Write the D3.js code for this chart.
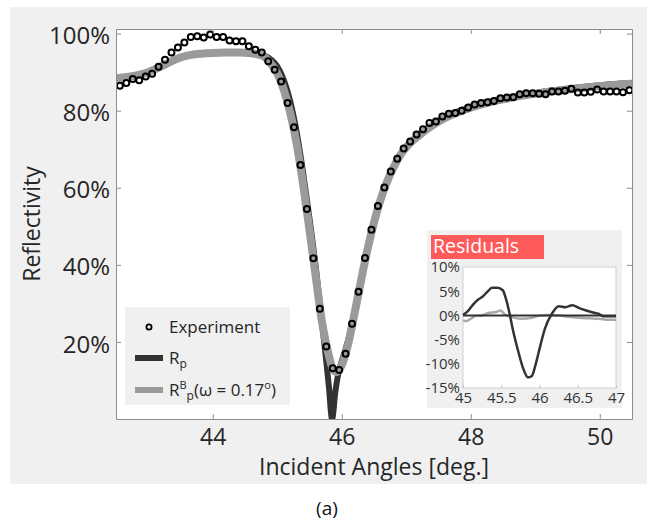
<!DOCTYPE html>
<html>
<head>
<meta charset="utf-8">
<script src="https://cdn.jsdelivr.net/npm/d3@7"></script>
<style>
  body { margin: 0; background: #fff; }
  svg { display: block; }
  text { font-family: "Open Sans", "DejaVu Sans", sans-serif; }
</style>
</head>
<body>
<svg id="chart" width="651" height="523"></svg>
<script>
// ---- Measured reflectivity (fraction) vs incident angle (deg) ----
const expAngles = [42.56,42.66,42.76,42.86,42.96,43.06,43.16,43.26,43.36,43.46,43.56,43.66,43.76,43.86,43.96,44.06,44.16,44.26,44.36,44.46,44.56,44.66,44.76,44.86,44.96,45.06,45.16,45.26,45.36,45.46,45.56,45.66,45.76,45.86,45.96,46.06,46.16,46.26,46.36,46.46,46.56,46.66,46.76,46.86,46.96,47.06,47.16,47.26,47.36,47.46,47.56,47.66,47.76,47.86,47.96,48.06,48.16,48.26,48.36,48.46,48.56,48.66,48.76,48.86,48.96,49.06,49.16,49.26,49.36,49.46,49.56,49.66,49.76,49.86,49.96,50.06,50.16,50.26,50.36,50.46];
const expValues = [0.865,0.872,0.882,0.879,0.889,0.896,0.914,0.932,0.951,0.964,0.977,0.991,0.993,0.990,0.998,0.991,0.991,0.982,0.980,0.980,0.967,0.958,0.951,0.928,0.906,0.876,0.820,0.757,0.659,0.545,0.417,0.286,0.188,0.132,0.127,0.169,0.247,0.330,0.418,0.491,0.553,0.601,0.642,0.675,0.702,0.720,0.738,0.752,0.768,0.772,0.785,0.792,0.794,0.800,0.808,0.816,0.820,0.822,0.825,0.832,0.834,0.835,0.843,0.845,0.845,0.844,0.843,0.850,0.850,0.852,0.857,0.847,0.847,0.849,0.855,0.850,0.850,0.850,0.848,0.853];

// ---- Model Rp (plane wave) ----
const rpAngles = [42.5,42.6,42.7,42.8,42.9,43.0,43.1,43.2,43.3,43.4,43.5,43.6,43.7,43.8,43.9,44.0,44.2,44.4,44.6,44.7,44.8,44.9,45.0,45.1,45.2,45.3,45.4,45.5,45.6,45.7,45.76,45.8,45.85,45.9,45.95,46.0,46.1,46.2,46.3,46.4,46.5,46.6,46.7,46.8,46.9,47.0,47.2,47.4,47.6,47.8,48.0,48.2,48.4,48.6,48.8,49.0,49.2,49.4,49.6,49.8,50.0,50.2,50.5];
const rpValues = [0.884,0.886,0.888,0.891,0.895,0.900,0.907,0.915,0.923,0.931,0.938,0.943,0.946,0.948,0.949,0.950,0.951,0.951,0.950,0.948,0.943,0.933,0.915,0.880,0.825,0.745,0.640,0.520,0.390,0.240,0.150,0.085,0.000,0.070,0.120,0.150,0.205,0.280,0.362,0.442,0.512,0.570,0.617,0.654,0.685,0.707,0.738,0.763,0.783,0.798,0.810,0.820,0.828,0.835,0.841,0.846,0.851,0.855,0.859,0.863,0.866,0.869,0.872];

// ---- Model R^B_p (beam divergence w = 0.17 deg) ----
const rbAngles = [42.5,42.6,42.7,42.8,42.9,43.0,43.1,43.2,43.3,43.4,43.5,43.6,43.7,43.8,43.9,44.0,44.2,44.4,44.6,44.7,44.8,44.9,45.0,45.1,45.2,45.3,45.4,45.5,45.6,45.7,45.8,45.86,45.92,46.0,46.1,46.2,46.3,46.4,46.5,46.6,46.7,46.8,46.9,47.0,47.2,47.4,47.6,47.8,48.0,48.2,48.4,48.6,48.8,49.0,49.2,49.4,49.6,49.8,50.0,50.2,50.5];
const rbValues = [0.884,0.886,0.888,0.891,0.895,0.900,0.907,0.915,0.923,0.931,0.938,0.943,0.946,0.948,0.949,0.950,0.951,0.951,0.949,0.946,0.940,0.922,0.897,0.855,0.795,0.715,0.610,0.490,0.365,0.245,0.165,0.130,0.122,0.140,0.195,0.275,0.360,0.440,0.510,0.568,0.615,0.652,0.683,0.705,0.736,0.761,0.781,0.796,0.808,0.818,0.826,0.833,0.839,0.844,0.849,0.853,0.857,0.861,0.864,0.867,0.870];

// ---- Residuals (%) ----
const resRpAngles = [45.0,45.07,45.14,45.2,45.25,45.32,45.38,45.45,45.52,45.56,45.61,45.65,45.72,45.79,45.85,45.9,45.95,46.01,46.07,46.16,46.25,46.34,46.43,46.52,46.61,46.7,46.77,46.83,46.92,47.0];
const resRpValues = [0.1,1.0,2.4,3.3,3.8,4.9,5.7,5.7,5.2,3.5,0.3,-2.8,-7.3,-11.1,-12.8,-12.5,-10.1,-6.3,-2.8,0.3,1.9,1.7,2.1,1.5,1.0,0.6,0.35,-0.15,-0.15,-0.15];
const resRbAngles = [45.0,45.04,45.1,45.17,45.25,45.33,45.43,45.49,45.54,45.63,45.76,45.9,45.99,46.12,46.25,46.38,46.52,46.65,46.78,46.91,47.0];
const resRbValues = [-1.0,-1.2,-0.7,-0.1,0.0,0.5,0.7,1.0,0.3,-0.3,-0.7,-0.5,-0.1,0.1,0.0,-0.3,-0.5,-0.6,-0.7,-0.9,-0.9];

// ---- Tick values ----
const xTicks = [44, 46, 48, 50];
const yTicks = [0.2, 0.4, 0.6, 0.8, 1.0];
const insetXTicks = [45, 45.5, 46, 46.5, 47];
const insetYTicks = [10, 5, 0, -5, -10, -15];

const COLOR_RP = "#333333";
const COLOR_RB = "#9a9a9a";
const AXIS_COLOR = "#8c8c8c";
const TEXT_COLOR = "#262626";

const svg = d3.select("#chart");
const P = { left: 116, right: 632, top: 29, bottom: 419 };

// figure background
svg.append("rect").attr("x", 10).attr("y", 7).attr("width", 637).attr("height", 477).attr("fill", "#f0f0f0");
svg.append("rect").attr("x", P.left).attr("y", P.top)
  .attr("width", P.right - P.left).attr("height", P.bottom - P.top).attr("fill", "#fff");

const x = d3.scaleLinear().domain([42.5, 50.5]).range([P.left, P.right]);
const y = d3.scaleLinear().domain([0, 1.012]).range([P.bottom, P.top]);

svg.append("clipPath").attr("id", "plotClip").append("rect")
  .attr("x", P.left).attr("y", P.top).attr("width", P.right - P.left).attr("height", P.bottom - P.top);

const lineGen = d3.line().x(d => x(d[0])).y(d => y(d[1])).curve(d3.curveMonotoneX);
const gPlot = svg.append("g").attr("clip-path", "url(#plotClip)");

gPlot.append("path").datum(d3.zip(rpAngles, rpValues))
  .attr("d", lineGen).attr("fill", "none").attr("stroke", COLOR_RP)
  .attr("stroke-width", 6).attr("stroke-linejoin", "round");
gPlot.append("path").datum(d3.zip(rbAngles, rbValues))
  .attr("d", lineGen).attr("fill", "none").attr("stroke", COLOR_RB)
  .attr("stroke-width", 8).attr("stroke-linejoin", "round");

gPlot.selectAll("circle.exp").data(d3.zip(expAngles, expValues)).enter()
  .append("circle").attr("class", "exp")
  .attr("cx", d => x(d[0])).attr("cy", d => y(d[1])).attr("r", 3)
  .attr("fill", "none").attr("stroke", "#000").attr("stroke-width", 2);

// axes (ticks pointing inward, box on)
function styleAxis(g) {
  g.selectAll("path.domain").attr("stroke", AXIS_COLOR);
  g.selectAll(".tick line").attr("stroke", AXIS_COLOR);
  g.selectAll("text").attr("fill", TEXT_COLOR).attr("font-family", '"Open Sans", sans-serif');
}
const gx = svg.append("g").attr("transform", `translate(0,${P.bottom})`)
  .call(d3.axisBottom(x).tickValues(xTicks).tickSizeInner(-5).tickSizeOuter(0).tickPadding(10).tickFormat(d3.format("d")));
gx.selectAll("text").attr("font-size", 23);
styleAxis(gx);
const gxt = svg.append("g").attr("transform", `translate(0,${P.top})`)
  .call(d3.axisTop(x).tickValues(xTicks).tickSizeInner(-5).tickSizeOuter(0).tickFormat(""));
styleAxis(gxt);
const gy = svg.append("g").attr("transform", `translate(${P.left},0)`)
  .call(d3.axisLeft(y).tickValues(yTicks).tickSizeInner(-5).tickSizeOuter(0).tickPadding(6).tickFormat(d3.format(".0%")));
gy.selectAll("text").attr("font-size", 24).attr("dy", "0.42em");
styleAxis(gy);
const gyr = svg.append("g").attr("transform", `translate(${P.right},0)`)
  .call(d3.axisRight(y).tickValues(yTicks).tickSizeInner(-5).tickSizeOuter(0).tickFormat(""));
styleAxis(gyr);

// axis titles
svg.append("text").attr("x", (P.left + P.right) / 2).attr("y", 475)
  .attr("text-anchor", "middle").attr("font-size", 23).attr("fill", TEXT_COLOR)
  .text("Incident Angles [deg.]");
svg.append("text").attr("transform", `translate(40,${(P.top + P.bottom) / 2}) rotate(-90)`)
  .attr("text-anchor", "middle").attr("font-size", 23).attr("fill", TEXT_COLOR)
  .text("Reflectivity");

// caption
svg.append("text").attr("x", 327).attr("y", 515).attr("text-anchor", "middle")
  .attr("font-family", '"DejaVu Serif", "Liberation Serif", serif').attr("font-size", 19)
  .attr("fill", "#111").text("(a)");

// legend
const lg = svg.append("g");
lg.append("rect").attr("x", 125).attr("y", 307).attr("width", 165).attr("height", 98).attr("fill", "#f0f0f0");
lg.append("circle").attr("cx", 149).attr("cy", 327).attr("r", 2.6)
  .attr("fill", "none").attr("stroke", "#000").attr("stroke-width", 1.8);
lg.append("text").attr("x", 169).attr("y", 333).attr("font-size", 17).attr("fill", TEXT_COLOR).text("Experiment");
lg.append("line").attr("x1", 135).attr("x2", 163).attr("y1", 358).attr("y2", 358)
  .attr("stroke", COLOR_RP).attr("stroke-width", 6);
const t1 = lg.append("text").attr("x", 169).attr("y", 364).attr("font-size", 17).attr("fill", TEXT_COLOR);
t1.append("tspan").text("R");
t1.append("tspan").attr("font-size", 12).attr("dy", 4).text("p");
lg.append("line").attr("x1", 135).attr("x2", 163).attr("y1", 390).attr("y2", 390)
  .attr("stroke", COLOR_RB).attr("stroke-width", 6);
const t2 = lg.append("text").attr("x", 169).attr("y", 396).attr("font-size", 17).attr("fill", TEXT_COLOR);
t2.append("tspan").text("R");
t2.append("tspan").attr("font-size", 11).attr("dy", -7).text("B");
t2.append("tspan").attr("font-size", 12).attr("dy", 11).text("p");
t2.append("tspan").attr("dy", -4).text("(ω = 0.17");
t2.append("tspan").attr("font-size", 11).attr("dy", -7).text("o");
t2.append("tspan").attr("dy", 7).text(")");

// ---- residuals inset ----
const IP = { left: 463, right: 616, top: 267, bottom: 388 };
const ins = svg.append("g");
ins.append("rect").attr("x", 427).attr("y", 230).attr("width", 195).attr("height", 178).attr("fill", "#f0f0f0");
ins.append("rect").attr("x", 431).attr("y", 235).attr("width", 113).attr("height", 24).attr("fill", "#ff5a5a");
ins.append("text").attr("x", 433).attr("y", 253).attr("font-size", 19.5).attr("fill", "#fff").text("Residuals");
ins.append("rect").attr("x", IP.left).attr("y", IP.top)
  .attr("width", IP.right - IP.left).attr("height", IP.bottom - IP.top)
  .attr("fill", "#fff").attr("stroke", "#d0d0d0").attr("stroke-width", 1);

const ix = d3.scaleLinear().domain([45, 47]).range([IP.left, IP.right]);
const iy = d3.scaleLinear().domain([-15, 10]).range([IP.bottom, IP.top]);
const iline = d3.line().x(d => ix(d[0])).y(d => iy(d[1])).curve(d3.curveMonotoneX);

ins.append("path").datum(d3.zip(resRbAngles, resRbValues)).attr("d", iline)
  .attr("fill", "none").attr("stroke", "#a8a8a8").attr("stroke-width", 2.5);
ins.append("path").datum(d3.zip(resRpAngles, resRpValues)).attr("d", iline)
  .attr("fill", "none").attr("stroke", COLOR_RP).attr("stroke-width", 2.5);
ins.append("line").attr("x1", ix(45)).attr("x2", ix(47)).attr("y1", iy(0)).attr("y2", iy(0))
  .attr("stroke", COLOR_RP).attr("stroke-width", 2);

const igx = ins.append("g").attr("transform", `translate(0,${IP.bottom})`)
  .call(d3.axisBottom(ix).tickValues(insetXTicks).tickSizeInner(-3).tickSizeOuter(0).tickPadding(4).tickFormat(d => String(d)));
igx.select("path.domain").remove();
igx.selectAll(".tick line").attr("stroke", "#c0c0c0");
igx.selectAll("text").attr("font-size", 15).attr("fill", "#333").attr("font-family", '"Open Sans", sans-serif');
const igy = ins.append("g").attr("transform", `translate(${IP.left},0)`)
  .call(d3.axisLeft(iy).tickValues(insetYTicks).tickSizeInner(0).tickSizeOuter(0).tickPadding(3).tickFormat(d => d + "%"));
igy.select("path.domain").remove();
igy.selectAll("text").attr("font-size", 15).attr("fill", "#333").attr("font-family", '"Open Sans", sans-serif');
</script>
</body>
</html>
